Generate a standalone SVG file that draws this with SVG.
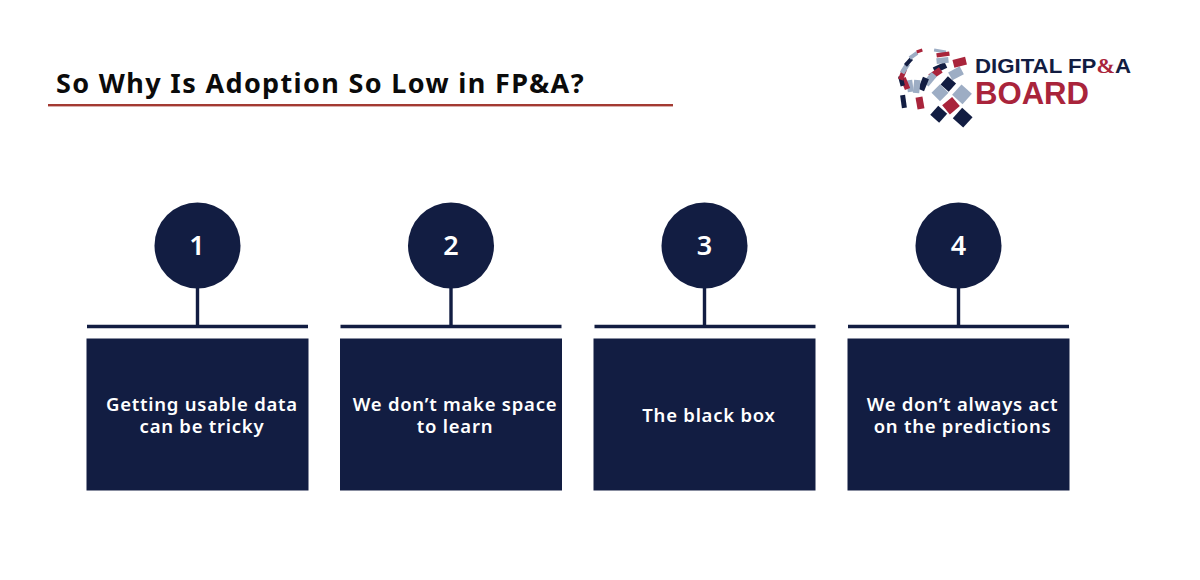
<svg xmlns="http://www.w3.org/2000/svg" width="1200" height="580" viewBox="0 0 1200 580">
<style>
.title{font-size:27px;font-weight:700;fill:#0b0b0b;font-family:"Noto Sans",sans-serif;letter-spacing:1.35px}
.num{font-size:27px;fill:#fff;text-anchor:middle;font-family:"Noto Sans",sans-serif;font-weight:600}
.lb{font-size:18.5px;font-weight:600;fill:#fff;text-anchor:middle;font-family:"Noto Sans",sans-serif;letter-spacing:.75px}
.n{fill:#121d42}.r{fill:#a9243b}.g{fill:#9dadc4}
.lg{font-family:"Liberation Sans",sans-serif;font-weight:700}
.ln{stroke:#121d42;fill:none}
</style>
<rect width="1200" height="580" fill="#fff"/>
<g id="header">
<text class="title" x="56" y="93">So Why Is Adoption So Low in FP&amp;A?</text>
<rect x="48" y="104" width="625" height="2.4" fill="#a33a32"/>
</g>
<g id="logo">
<rect class="n" x="-7" y="-7" width="14" height="14" transform="translate(962.700 117.700) rotate(42)"/>
<rect class="n" x="-6" y="-6" width="12" height="12" transform="translate(938.700 114.300) rotate(42)"/>
<rect class="r" x="-6.500" y="-6" width="13" height="12" transform="translate(951 105.700) rotate(-40)"/>
<rect class="g" x="-7" y="-7" width="14" height="14" transform="translate(962 94.300) rotate(42)"/>
<rect class="g" x="-6" y="-6" width="12" height="12" transform="translate(940 92.700) rotate(45)"/>
<rect class="n" x="-5.500" y="-5.500" width="11" height="11" transform="translate(948.300 84) rotate(-48)"/>
<rect class="g" x="-6.500" y="-4.500" width="13" height="9" transform="translate(956 73.300) rotate(-28)"/>
<rect class="r" x="-6.500" y="-4" width="13" height="8" transform="translate(959.700 62.300) rotate(-14)"/>
<rect class="n" x="-6.500" y="-3.200" width="13" height="6.400" transform="translate(940 67.700) rotate(-25)"/>
<rect class="r" x="-6.500" y="-3.200" width="13" height="6.400" transform="translate(935.500 73.500) rotate(-35)"/>
<rect class="g" x="-6.500" y="-3.500" width="13" height="7" transform="translate(930 79.300) rotate(-50)"/>
<rect class="n" x="-6.500" y="-3.200" width="13" height="6.400" transform="translate(923.500 84) rotate(-68)"/>
<rect class="g" x="-6.500" y="-3.200" width="13" height="6.400" transform="translate(916.700 86.500) rotate(-84)"/>
<rect class="g" x="-6" y="-3" width="12" height="6" transform="translate(910 86) rotate(82)"/>
<rect class="r" x="-6" y="-2.800" width="12" height="5.600" transform="translate(905.300 83.500) rotate(68)"/>
<rect class="n" x="-5" y="-2.200" width="10" height="4.400" transform="translate(901.500 81) rotate(75)"/>
<rect class="r" x="-5.500" y="-2.500" width="11" height="5" transform="translate(902.500 74.500) rotate(-68)"/>
<rect class="g" x="-5.500" y="-2.500" width="11" height="5" transform="translate(905 68.300) rotate(-58)"/>
<rect class="n" x="-4.500" y="-2" width="9" height="4" transform="translate(908.500 62) rotate(-48)"/>
<rect class="g" x="-4.500" y="-2" width="9" height="4" transform="translate(913.500 55.500) rotate(-35)"/>
<rect class="r" x="-3" y="-1.500" width="6" height="3" transform="translate(919.500 51) rotate(-20)"/>
<rect class="g" x="-6" y="-1.500" width="12" height="3" transform="translate(940 51) rotate(10)"/>
<rect class="r" x="-6.500" y="-2.200" width="13" height="4.400" transform="translate(943 54.500) rotate(-8)"/>
<rect class="g" x="-6" y="-2.800" width="12" height="5.600" transform="translate(942.500 60.500) rotate(-6)"/>
<rect class="n" x="-2.500" y="-6.500" width="5" height="13" transform="translate(903.500 101.500) rotate(-8)"/>
<rect class="r" x="-3.500" y="-6" width="7" height="12" transform="translate(920 103) rotate(-10)"/>
<text class="lg" x="975" y="73" font-size="21" fill="#121d42" textLength="156" lengthAdjust="spacingAndGlyphs">DIGITAL FP<tspan fill="#a9243b" font-family="Liberation Serif">&amp;</tspan>A</text>
<text class="lg r" x="975" y="104" font-size="32" textLength="114" lengthAdjust="spacingAndGlyphs">BOARD</text>
</g>
<g id="connectors">
<path class="ln" stroke-width="3.400" d="M197.500 288V325M451 288V325M704.500 288V325M958.500 288V325"/>
<path class="ln" stroke-width="3.400" d="M87 326.500H308M340.500 326.500H561.500M594.500 326.500H815.500M848 326.500H1069"/>
</g>
<g id="node1">
<circle class="n" cx="197.500" cy="245.500" r="43"/>
<text class="num" x="197" y="255">1</text>
<rect class="n" x="86.500" y="338.500" width="222" height="152"/>
<text class="lb" x="202" y="411">Getting usable data</text>
<text class="lb" x="202" y="433">can be tricky</text>
</g>
<g id="node2">
<circle class="n" cx="451" cy="245.500" r="43"/>
<text class="num" x="451" y="255">2</text>
<rect class="n" x="340" y="338.500" width="222" height="152"/>
<text class="lb" x="455" y="411">We don’t make space</text>
<text class="lb" x="455" y="433">to learn</text>
</g>
<g id="node3">
<circle class="n" cx="704.500" cy="245.500" r="43"/>
<text class="num" x="704.500" y="255">3</text>
<rect class="n" x="593.500" y="338.500" width="222" height="152"/>
<text class="lb" x="709" y="422">The black box</text>
</g>
<g id="node4">
<circle class="n" cx="958.500" cy="245.500" r="43"/>
<text class="num" x="958.500" y="255">4</text>
<rect class="n" x="847.500" y="338.500" width="222" height="152"/>
<text class="lb" x="962.500" y="411">We don’t always act</text>
<text class="lb" x="962.500" y="433">on the predictions</text>
</g>
</svg>
